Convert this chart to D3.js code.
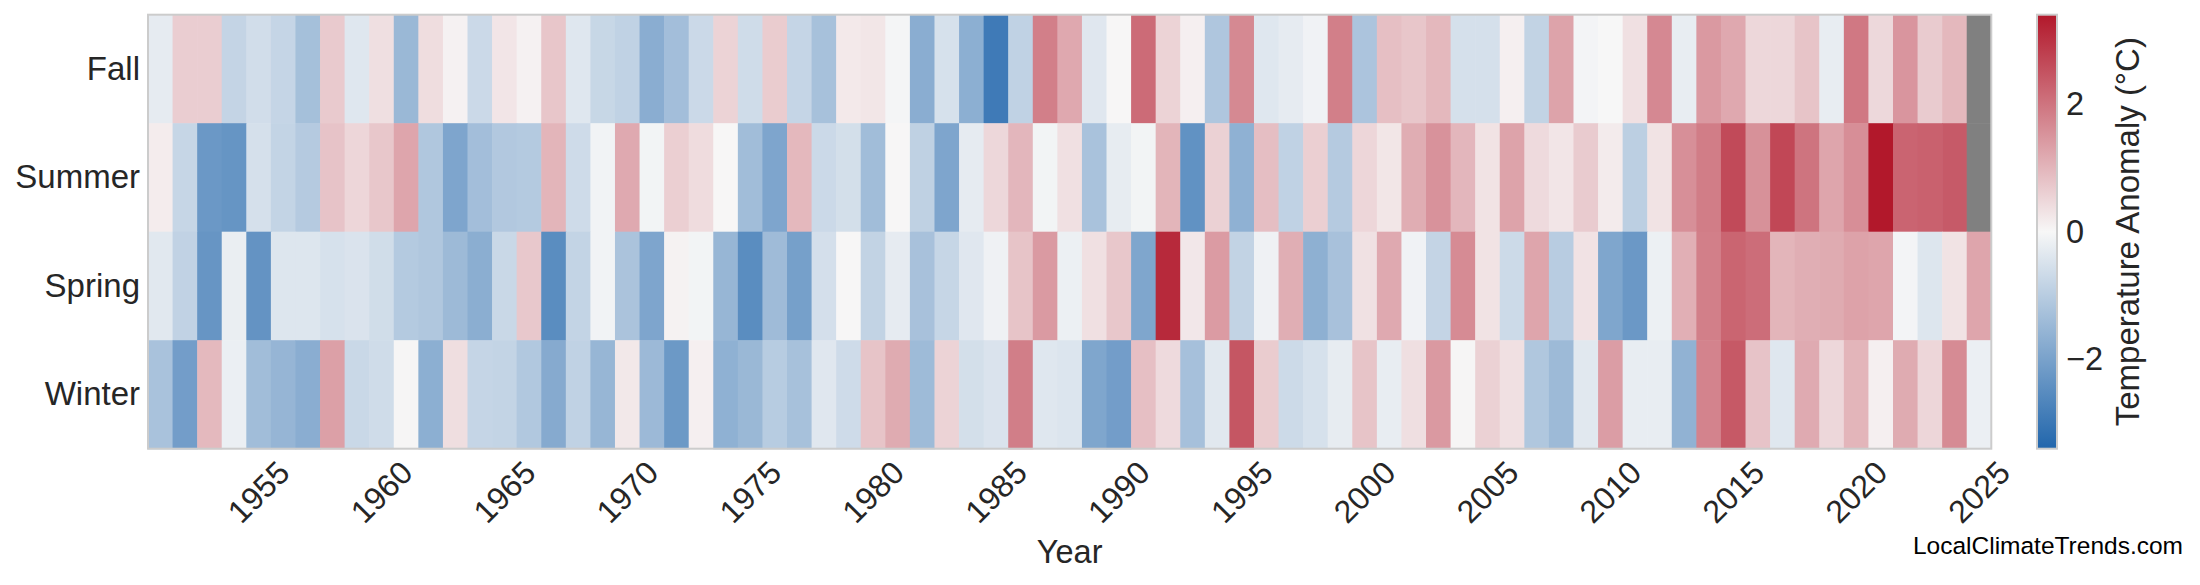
<!DOCTYPE html>
<html><head><meta charset="utf-8">
<script src="https://cdn.jsdelivr.net/npm/d3@7"></script>
<style>html,body{margin:0;padding:0;background:#fff;} svg{display:block;font-family:"Liberation Sans",Arial,sans-serif;}</style>
</head><body><svg id="chart" width="2200" height="585"></svg>
<script>
// ---- data ----
const seasons = ["Fall", "Summer", "Spring", "Winter"];
const firstYear = 1951, lastYear = 2025;
const years = d3.range(firstYear, lastYear + 1);
const fall = [
 -0.27, 0.64, 0.64, -0.81, -0.60, -0.79, -1.30, 0.69, -0.38, 0.37,
 -1.48, 0.40, 0.09, -0.70, 0.27, 0.09, 0.75, -0.38, -0.76, -0.87,
 -1.73, -1.33, -0.70, 0.55, -0.64, 0.66, -0.79, -1.27, 0.21, 0.26,
 -0.04, -1.73, -0.52, -1.70, -2.92, -0.87, 1.83, 1.20, -0.37, 0.02,
 2.14, 0.55, 0.12, -1.14, 1.68, -0.38, -0.27, -0.11, 1.83, -1.19,
 0.85, 0.75, 0.96, -0.54, -0.54, 0.12, -0.84, 1.28, -0.06, 0.00,
 0.35, 1.69, -0.24, 1.43, 1.20, 0.49, 0.49, 0.78, -0.24, 1.94,
 0.47, 1.49, 0.67, 0.96, null];
const summer = [
 0.17, -0.78, -2.22, -2.30, -0.54, -0.83, -1.05, 0.79, 0.50, 0.73,
 1.25, -1.13, -1.92, -1.33, -1.10, -1.06, 1.01, -0.65, -0.10, 1.19,
 -0.08, 0.61, 0.41, 0.02, -1.37, -1.92, 0.96, -0.70, -0.57, -1.37,
 0.02, -0.89, -1.92, -0.27, 0.49, 0.99, -0.08, 0.35, -1.24, -0.25,
 -0.08, 1.01, -2.38, 0.58, -1.65, 0.87, -0.87, 0.61, -1.05, 0.50,
 0.26, 1.13, 1.54, 0.99, 0.31, 1.28, 0.44, 0.27, 0.67, 0.18,
 -0.94, 0.31, 1.59, 1.86, 2.64, 1.56, 2.68, 2.00, 1.25, 1.60,
 3.40, 2.24, 2.28, 2.39, null];
const spring = [
 -0.35, -0.86, -2.29, -0.21, -2.34, -0.41, -0.41, -0.52, -0.46, -0.62,
 -1.06, -1.13, -1.43, -1.72, -0.73, 0.72, -2.49, -0.83, -0.10, -1.21,
 -1.92, 0.08, -0.08, -1.53, -2.49, -1.40, -2.05, -0.56, 0.02, -0.84,
 -0.27, -1.26, -0.78, -0.37, -0.13, 0.78, 1.42, -0.17, 0.35, 0.73,
 -1.91, 3.14, 0.24, 1.40, -0.84, -0.13, 1.11, -1.67, -1.26, 0.34,
 1.19, -0.11, -0.81, 1.65, 0.31, -0.68, 1.25, -1.00, 0.32, -1.91,
 -2.22, -0.17, 1.10, 1.83, 2.23, 2.10, 1.01, 1.11, 1.16, 1.30,
 1.25, -0.06, -0.41, 0.31, 1.25];
const winter = [
 -1.24, -2.10, 0.95, -0.19, -1.37, -1.54, -1.73, 1.33, -0.73, -0.64,
 0.03, -1.70, 0.38, -0.79, -0.83, -1.11, -1.80, -0.87, -1.53, 0.23,
 -1.45, -2.21, 0.12, -1.65, -1.48, -1.02, -1.27, -0.37, -0.65, 0.78,
 1.16, -1.41, 0.55, -0.57, -0.46, 1.85, -0.38, -0.43, -1.91, -2.10,
 0.85, 0.44, -1.29, -0.35, 2.46, 0.66, -0.68, -0.52, -0.25, 0.78,
 -0.24, 0.37, 1.43, 0.03, 0.58, 0.35, -1.13, -1.43, -0.35, 1.37,
 -0.24, -0.24, -1.62, 1.77, 2.41, 0.79, -0.38, 1.17, 0.49, 1.01,
 0.12, 1.16, 0.50, 1.65, -0.19];
const xTickLabels = ["1955","1960","1965","1970","1975","1980","1985","1990","1995","2000","2005","2010","2015","2020","2025"];
const cbarTicks = [-2, 0, 2];
const vmax = 3.4;

// ---- drawing ----
const svg = d3.select("#chart");
const textColor = "#262626";
const fontFam = '"Liberation Sans", Arial, sans-serif';
const plot = {left: 148, right: 1991.3, top: 14.7, bottom: 448.7};
const x = d3.scaleBand().domain(years).range([plot.left, plot.right]);
const y = d3.scaleBand().domain(seasons).range([plot.top, plot.bottom]);
const color = d3.scaleLinear().domain([-vmax, 0, vmax])
  .range(["#2166ac", "#f7f7f7", "#b2182b"]).interpolate(d3.interpolateRgb).clamp(true);

const bySeason = {Fall: fall, Summer: summer, Spring: spring, Winter: winter};
const cells = [];
seasons.forEach(s => years.forEach((yr, i) => cells.push({season: s, year: yr, value: bySeason[s][i]})));

svg.append("g").selectAll("rect").data(cells).join("rect")
  .attr("x", d => x(d.year)).attr("y", d => y(d.season))
  .attr("width", x.bandwidth() + 0.6).attr("height", y.bandwidth() + 0.6)
  .attr("fill", d => d.value == null ? "#808080" : color(d.value));

svg.append("rect")
  .attr("x", plot.left).attr("y", plot.top)
  .attr("width", plot.right - plot.left).attr("height", plot.bottom - plot.top)
  .attr("fill", "none").attr("stroke", "#cccccc").attr("stroke-width", 2);

// x axis
const xAxis = svg.append("g").attr("transform", `translate(0,${plot.bottom})`)
  .call(d3.axisBottom(x).tickValues(xTickLabels.map(Number)).tickSize(0).tickFormat(d => String(d)));
xAxis.select(".domain").remove();
xAxis.selectAll("text")
  .attr("x", 0).attr("y", 0).attr("dy", "0.35em")
  .attr("text-anchor", "middle")
  .attr("transform", "translate(0,43.3) rotate(-45)")
  .attr("font-size", 32).attr("fill", textColor)
  .style("font-family", fontFam);

// y axis
const yAxis = svg.append("g").attr("transform", `translate(${plot.left},0)`)
  .call(d3.axisLeft(y).tickSize(0).tickPadding(8));
yAxis.select(".domain").remove();
yAxis.selectAll("text").attr("font-size", 33).attr("fill", textColor)
  .style("font-family", fontFam);

// x label
svg.append("text").attr("x", (plot.left + plot.right) / 2).attr("y", 562.7)
  .attr("text-anchor", "middle").attr("font-size", 32.5).attr("fill", textColor).text("Year");

// colorbar
const cb = {left: 2037, right: 2057};
const cy = d3.scaleLinear().domain([-vmax, vmax]).range([plot.bottom, plot.top]);
const defs = svg.append("defs");
const grad = defs.append("linearGradient").attr("id", "cbgrad")
  .attr("x1", 0).attr("y1", 1).attr("x2", 0).attr("y2", 0);
grad.selectAll("stop").data(color.domain()).join("stop")
  .attr("offset", d => (d + vmax) / (2 * vmax))
  .attr("stop-color", d => color(d));
svg.append("rect").attr("x", cb.left).attr("y", plot.top)
  .attr("width", cb.right - cb.left).attr("height", plot.bottom - plot.top)
  .attr("fill", "url(#cbgrad)").attr("stroke", "#cccccc").attr("stroke-width", 2);
const cAxis = svg.append("g").attr("transform", `translate(${cb.right},0)`)
  .call(d3.axisRight(cy).tickValues(cbarTicks).tickSize(0).tickPadding(9).tickFormat(d3.format("d")));
cAxis.select(".domain").remove();
cAxis.selectAll("text").attr("font-size", 32.5).attr("fill", textColor)
  .style("font-family", fontFam);

svg.append("text")
  .attr("transform", `translate(2127,${(plot.top + plot.bottom) / 2}) rotate(-90)`)
  .attr("text-anchor", "middle").attr("dy", "0.35em")
  .attr("font-size", 33).attr("fill", textColor).text("Temperature Anomaly (°C)");

// watermark
svg.append("text").attr("x", 2183).attr("y", 554).attr("text-anchor", "end")
  .attr("font-size", 24.5).attr("fill", "#000").text("LocalClimateTrends.com");
</script>
</body></html>
